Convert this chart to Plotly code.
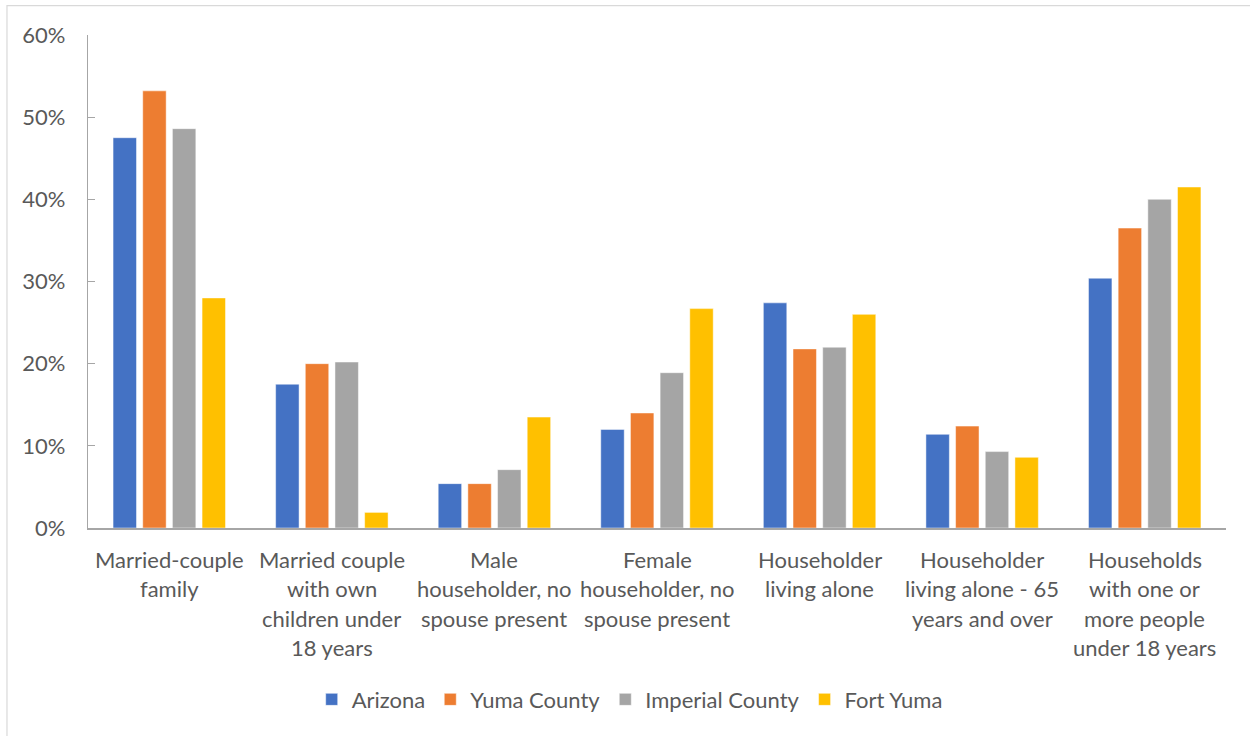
import plotly.graph_objects as go

categories = [
    "Married-couple<br>family",
    "Married couple<br>with own<br>children under<br>18 years",
    "Male<br>householder, no<br>spouse present",
    "Female<br>householder, no<br>spouse present",
    "Householder<br>living alone",
    "Householder<br>living alone - 65<br>years and over",
    "Households<br>with one or<br>more people<br>under 18 years",
]

arizona = [47.5, 17.5, 5.4, 12.0, 27.4, 11.4, 30.4]
yuma_county = [53.2, 20.0, 5.4, 14.0, 21.8, 12.4, 36.5]
imperial_county = [48.6, 20.2, 7.1, 18.9, 22.0, 9.3, 40.0]
fort_yuma = [28.0, 1.9, 13.5, 26.7, 26.0, 8.6, 41.5]

series_names = ["Arizona", "Yuma County", "Imperial County", "Fort Yuma"]
series_values = [arizona, yuma_county, imperial_county, fort_yuma]
series_colors = ["#4472C4", "#ED7D31", "#A5A5A5", "#FFC000"]

y_ticks = [0, 10, 20, 30, 40, 50, 60]

FONT = "Lato, 'Open Sans', sans-serif"
FONT_SIZE = 22
TEXT_COLOR = "#595959"
AXIS_COLOR = "#A6A6A6"

fig = go.Figure()
idx = list(range(len(categories)))
for name, vals, col in zip(series_names, series_values, series_colors):
    fig.add_trace(go.Bar(
        x=idx, y=vals, name=name,
        marker=dict(color=col, line=dict(color="rgba(255,255,255,0.6)", width=0.8)),
    ))

# Category labels, one annotation per line for wider line spacing
annotations = []
for i, label in enumerate(categories):
    for j, line in enumerate(label.split("<br>")):
        annotations.append(dict(
            x=i, y=0, xref="x", yref="y",
            text=line, showarrow=False,
            yanchor="middle", xanchor="center",
            yshift=-31 - 29.5 * j,
            font=dict(family=FONT, size=FONT_SIZE, color=TEXT_COLOR),
        ))

fig.update_layout(
    width=1250, height=736,
    margin=dict(l=88, r=24, t=35, b=208),
    paper_bgcolor="white", plot_bgcolor="white",
    barmode="group", bargap=0.27, bargroupgap=0.21,
    font=dict(family=FONT, size=FONT_SIZE, color=TEXT_COLOR),
    xaxis=dict(
        range=[-0.5, len(categories) - 0.5],
        showticklabels=False, ticks="",
        showline=True, linecolor=AXIS_COLOR, linewidth=1.5,
        showgrid=False, zeroline=False, fixedrange=True,
    ),
    yaxis=dict(
        range=[0, 60], tickvals=y_ticks,
        ticktext=[f"{v}%" for v in y_ticks],
        ticks="inside", ticklen=7, tickcolor=AXIS_COLOR, tickwidth=1.3,
        showline=True, linecolor=AXIS_COLOR, linewidth=1.3,
        showgrid=False, zeroline=False,
        ticklabelstandoff=17,
        tickfont=dict(family=FONT, size=FONT_SIZE, color=TEXT_COLOR),
    ),
    legend=dict(
        orientation="h", x=0.476, xanchor="center",
        y=-0.348, yanchor="middle",
        font=dict(family=FONT, size=FONT_SIZE, color=TEXT_COLOR),
        traceorder="normal",
    ),
    annotations=annotations,
    shapes=[dict(
        type="rect", xref="paper", yref="paper",
        x0=-0.0712, x1=1.08, y0=-0.6, y1=1.0594,
        line=dict(color="#D9D9D9", width=1.2), layer="below",
    )],
)

fig.write_html("out.html")
